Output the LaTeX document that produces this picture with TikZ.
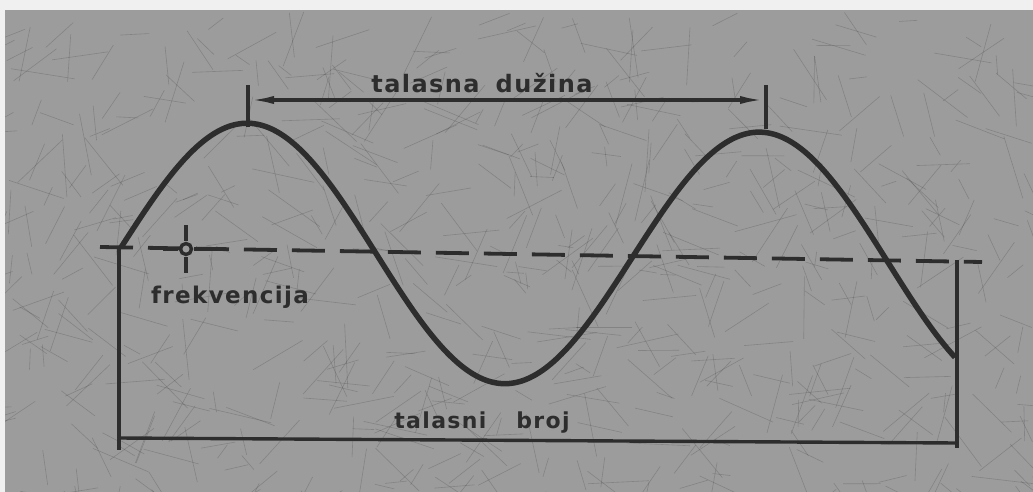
\documentclass[tikz,border=0pt]{standalone}
\usepackage{fontspec}
\newfontfamily\letfont{DejaVu Sans Bold}[LetterSpace=6]
\usetikzlibrary{arrows.meta}

\definecolor{paper}{RGB}{156,156,156}
\definecolor{ink}{RGB}{45,45,45}

\tikzset{
  wave/.style={ink, line width=5.5pt},
  guide/.style={ink, line width=3.4pt},
  wordtext/.style={ink, inner sep=0pt, anchor=base, font=\letfont\fontsize{23pt}{23pt}\selectfont}
}

\begin{document}
\begin{tikzpicture}[x=1pt, y=-1pt]

    % Paper
    \useasboundingbox (0,0) rectangle (1033,492);
    \fill[black!6] (0,0) rectangle (1033,492);
    \fill[paper] (5,10) rectangle (1033,492);

    % Scratches on the scan
    \begin{scope}
      \clip (5,10) rectangle (1033,492);
      \pgfmathsetseed{42}
      \foreach \i in {1,...,650} {
        \pgfmathsetmacro{\xa}{5+rnd*1028}
        \pgfmathsetmacro{\ya}{10+rnd*482}
        \pgfmathsetmacro{\ang}{rnd*180}
        \pgfmathsetmacro{\len}{15+rnd*50}
        \draw[ink, opacity=0.22, line width=0.6pt] (\xa,\ya) -- ++(\ang:\len);
      }
    \end{scope}

    % Reference points
    \coordinate (dl) at (100,247);
    \coordinate (dr) at (982,262);
    \coordinate (vl) at (119,248);
    \coordinate (vlb) at (119,450);
    \coordinate (vr) at (957,260);
    \coordinate (vrb) at (957,448);
    \coordinate (bl) at (119,438);
    \coordinate (br) at (957,443);

    % Dashed middle line
    \draw[guide, line width=3.8pt, dash pattern=on 33pt off 15pt] (dl) -- (dr);

    % Wave (period 512, amplitude 128)
    \draw[wave] plot[domain=121:955, samples=160, smooth]
        (\x, {249+0.0174*(\x-120)-128*sin(0.703125*(\x-120))});

    % Wavelength
    \coordinate (lt) at (248,85);
    \coordinate (lb) at (248,127);
    \coordinate (rt) at (766,85);
    \coordinate (rb) at (766,129);
    \coordinate (la) at (248,100);
    \coordinate (ra) at (766,100);
    \draw[guide] (lt) -- (lb);
    \draw[guide] (rt) -- (rb);
    \draw[guide, {Latex[length=26pt,width=8pt]}-{Latex[length=26pt,width=8pt]}] (la) -- (ra);
    \node[wordtext, font=\letfont\fontsize{24pt}{24pt}\selectfont] (length) at (482,93) {talasna\hspace{16pt}dužina};

    % Frequency mark
    \coordinate (cross) at (186,249);
    \draw[guide] (cross) circle[radius=5.5];
    \draw[guide] (cross) ++(0,-8) -- ++(0,-16);
    \draw[guide] (cross) ++(0,8) -- ++(0,16);
    \draw[guide] (cross) ++(-8,0) -- ++(-15,0);
    \draw[guide] (cross) ++(8,0) -- ++(15,0);
    \node[wordtext] (freq) at (230,303) {frekvencija};

    % Wave number
    \draw[guide] (vl) -- (vlb);
    \draw[guide] (vr) -- (vrb);
    \draw[guide] (bl) -- (br);
    \node[wordtext, font=\letfont\fontsize{22pt}{22pt}\selectfont] (number) at (482,428) {talasni\hspace{30pt}broj};

\end{tikzpicture}
\end{document}
